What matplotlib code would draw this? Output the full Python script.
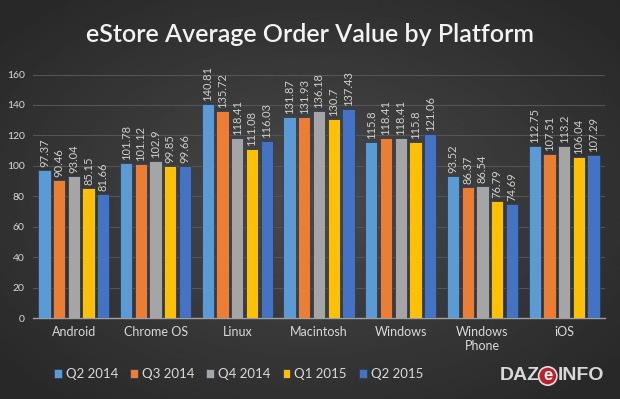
import matplotlib.pyplot as plt
import numpy as np

platforms = ["Android", "Chrome OS", "Linux", "Macintosh", "Windows", "Windows\nPhone", "iOS"]
quarters = ["Q2 2014", "Q3 2014", "Q4 2014", "Q1 2015", "Q2 2015"]
q2_2014 = [97.37, 101.78, 140.81, 131.87, 115.8, 93.52, 112.75]
q3_2014 = [90.46, 101.12, 135.72, 131.93, 118.41, 86.37, 107.51]
q4_2014 = [93.04, 102.9, 118.41, 136.18, 118.41, 86.54, 113.2]
q1_2015 = [85.15, 99.85, 111.08, 130.7, 115.8, 76.79, 106.04]
q2_2015 = [81.66, 99.66, 116.03, 137.43, 121.06, 74.69, 107.29]
series = [q2_2014, q3_2014, q4_2014, q1_2015, q2_2015]
colors = ["#5b9bd5", "#ed7d31", "#a5a5a5", "#ffc000", "#4472c4"]

W, H = 620, 399
fig = plt.figure(figsize=(W / 100, H / 100), dpi=100)

# radial background
bg = fig.add_axes([0, 0, 1, 1], zorder=-10)
yy, xx = np.mgrid[-1:1:200j, -1:1:300j]
r = np.sqrt(xx ** 2 + yy ** 2)
bg.imshow(0.29 - 0.13 * np.clip(r / 1.3, 0, 1), cmap="gray", vmin=0, vmax=1,
          aspect="auto", extent=[0, 1, 0, 1])
bg.axis("off")

ax = fig.add_axes([33 / W, 1 - 318 / H, (605 - 33) / W, (318 - 74.5) / H])
ax.set_facecolor("none")

x = np.arange(len(platforms))
step = 0.18
width = 0.15
for i, (vals, c) in enumerate(zip(series, colors)):
    pos = x + (i - 2) * step
    bars = ax.bar(pos, vals, width, color=c, edgecolor="#2e3e55", linewidth=0.6,
                  label=quarters[i], zorder=3)
    for b, v in zip(bars, vals):
        ax.text(b.get_x() + b.get_width() / 2, v + 2, f"{v:g}", rotation=90,
                ha="center", va="bottom", fontsize=8, color="#d0d0d0",
                family="Lato", zorder=4)

ax.set_xlim(-0.5, len(platforms) - 0.5)
ax.set_ylim(0, 160)
ax.set_yticks(range(0, 161, 20))
ax.yaxis.grid(True, color="#555555", linewidth=0.8, zorder=0)
ax.set_xticks(x)
ax.set_xticklabels(platforms, fontsize=9, color="#d9d9d9", family="Lato")
for lab in ax.get_yticklabels():
    lab.set_fontsize(7.5)
    lab.set_color("#d9d9d9")
    lab.set_family("Lato")
ax.tick_params(length=0, pad=6)
for s in ["top", "right", "left"]:
    ax.spines[s].set_visible(False)
ax.spines["bottom"].set_color("#a0a0a0")
ax.spines["bottom"].set_linewidth(1)

fig.text(0.5, 1 - 34 / H, "eStore Average Order Value by Platform", ha="center",
         va="center", fontsize=18, fontweight="semibold", color="#f2f2f2",
         family="Lato")

leg = fig.legend(loc="center left", bbox_to_anchor=(42 / W, 1 - 374 / H), ncol=5,
                 frameon=False, handlelength=0.6, handleheight=0.6,
                 handletextpad=0.3, columnspacing=0.9,
                 prop={"family": "Lato", "size": 9.5})
for t in leg.get_texts():
    t.set_color("#d9d9d9")

# logo
fig.canvas.draw()
rend = fig.canvas.get_renderer()
ly = 1 - 376 / H
t1 = fig.text(500 / W, ly, "DAZ", ha="left", va="center", fontsize=14,
              fontweight="bold", color="#d8d8d8", family="Liberation Sans")
x1 = t1.get_window_extent(rend).x1
t2 = fig.text((x1 + 3) / W, ly, "e", ha="left", va="center", fontsize=12,
              fontweight="bold", color="white", family="Liberation Sans",
              bbox=dict(boxstyle="circle,pad=0.1", fc="#c0202a", ec="#e0e0e0", lw=1.2))
fig.canvas.draw()
x2 = t2.get_bbox_patch().get_window_extent(rend).x1
fig.text((x2 + 1) / W, ly, "INFO", ha="left", va="center", fontsize=14,
         fontweight="bold", color="#d8d8d8", family="Liberation Sans")

fig.savefig("out.png", dpi=100)
